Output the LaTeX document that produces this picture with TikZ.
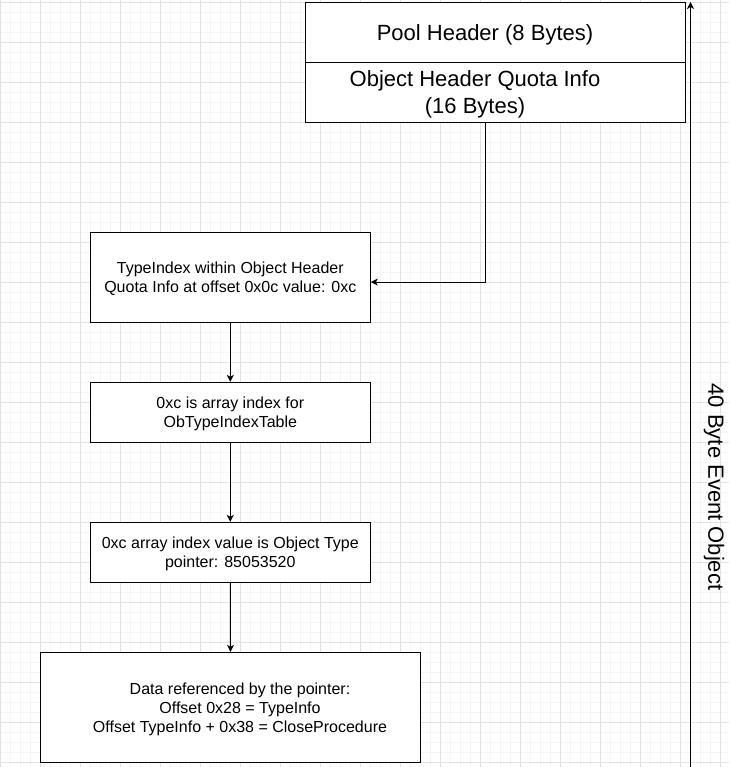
\documentclass[tikz,border=0pt]{standalone}
\usepackage{fontspec}
\setmainfont{Liberation Sans}
\usetikzlibrary{arrows.meta}
\definecolor{minorgrid}{HTML}{F5F5F5}
\definecolor{majorgrid}{HTML}{E1E1E1}
\begin{document}
\begin{tikzpicture}[x=1pt,y=-1pt,
  minorline/.style={draw=minorgrid,line width=1pt},
  majorline/.style={draw=majorgrid,line width=1pt},
  box/.style={draw=black,line width=1pt,fill=white,rectangle,inner sep=0pt,align=center,font=\fontsize{16}{19.2}\selectfont},
  bigtext/.style={inner sep=0pt,align=center,font=\fontsize{22}{26.8}\selectfont},
  smalltext/.style={inner sep=0pt,align=center,font=\fontsize{16}{19.2}\selectfont},
  arr/.style={draw=black,line width=1pt,-{Stealth[length=7pt,width=7pt,inset=2pt]}}]
\useasboundingbox (0,0) rectangle (729,767);
\fill[white] (0,0) rectangle (729,767);
% grid
\foreach \i in {0,...,72} {\draw[minorline] (\i*10,0) -- (\i*10,767);}
\foreach \i in {0,...,76} {\draw[minorline] (0,\i*10+2.3) -- (729,\i*10+2.3);}
\foreach \i in {0,...,18} {\draw[majorline] (\i*40+0.5,0) -- (\i*40+0.5,767);}
\foreach \i in {0,...,19} {\draw[majorline] (0,\i*40+2.3) -- (729,\i*40+2.3);}
% top boxes
\node[box,minimum width=380pt,minimum height=60pt] (ph) at (495.5,32.2) {};
\node[bigtext] (phT) at (485,34.5) {Pool Header (8 Bytes)};
\node[box,minimum width=380pt,minimum height=60pt] (ohq) at (495.5,92.1) {};
\node[bigtext] (ohqT) at (475,94) {Object Header Quota Info\\(16 Bytes)};
% flow boxes
\node[box,minimum width=280pt,minimum height=89.5pt] (b1) at (230.3,277.4) {};
\node[smalltext] (b1T) at (230.3,279) {TypeIndex within Object Header\\Quota Info at offset 0x0c value: 0xc};
\node[box,minimum width=280pt,minimum height=59.7pt] (b2) at (230.3,412.2) {};
\node[smalltext] (b2T) at (230.3,413.5) {0xc is array index for\\ObTypeIndexTable};
\node[box,minimum width=280pt,minimum height=59.7pt] (b3) at (230.3,552.2) {};
\node[smalltext] (b3T) at (230.3,553.5) {0xc array index value is Object Type\\pointer: 85053520};
\node[box,minimum width=380.4pt,minimum height=109.7pt] (b4) at (230.5,707.2) {};
\node[smalltext] (b4T) at (240,709.5) {Data referenced by the pointer:\\Offset 0x28 = TypeInfo\\Offset TypeInfo + 0x38 = CloseProcedure};
% connectors
\draw[arr] ([xshift=-10pt]ohq.south) |- ([yshift=-4.7pt]b1.east);
\draw[arr] (b1.south) -- (b2.north);
\draw[arr] (b2.south) -- (b3.north);
\draw[arr] (b3.south) -- (b4.north);
% 40 byte arrow
\coordinate (sizeBottom) at (690.5,767);
\coordinate (sizeTop) at (690.5,2);
\draw[arr] (sizeBottom) -- (sizeTop);
\node[bigtext,rotate=-90] (sizeLabel) at (714,487) {40 Byte Event Object};
\end{tikzpicture}
\end{document}
